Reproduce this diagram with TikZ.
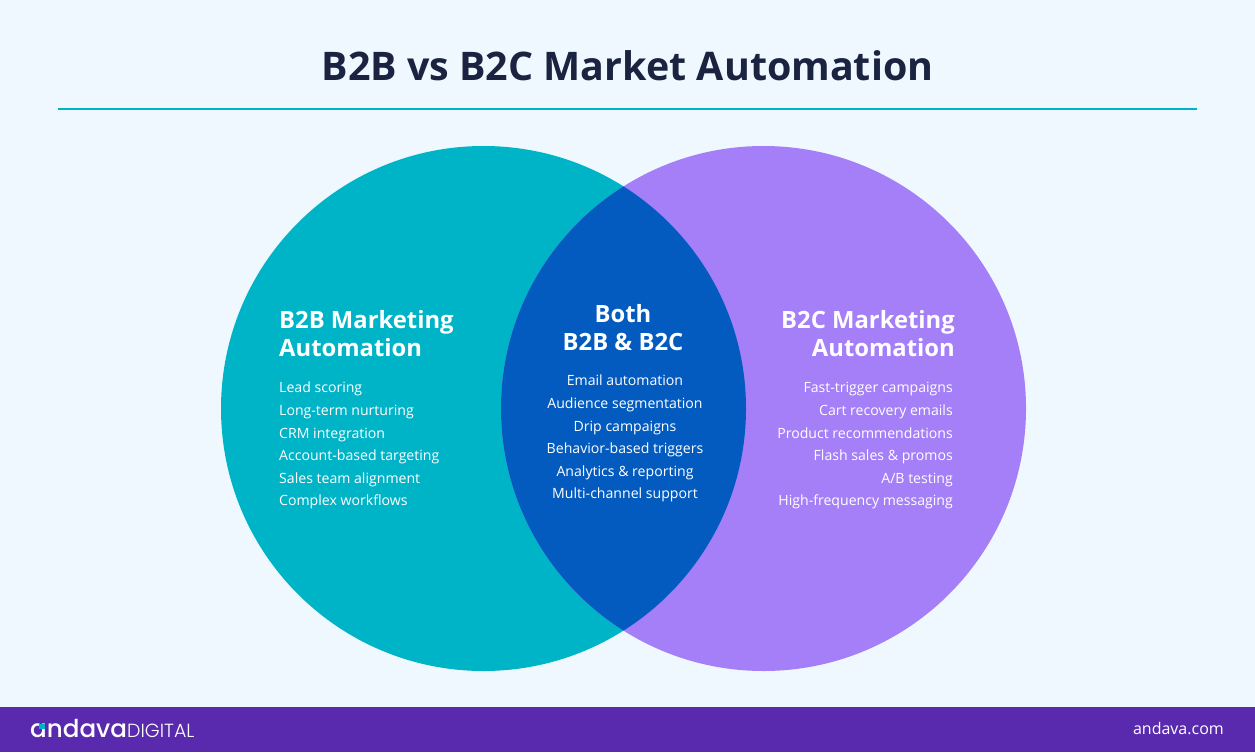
\documentclass[tikz,border=0pt]{standalone}
\usepackage{fontspec}
\setmainfont{Open Sans}
\newfontfamily\logofont{Poppins Medium}
\newfontfamily\logolight{Poppins Light}
\definecolor{bg}{HTML}{F0F8FF}
\definecolor{navy}{HTML}{1A2340}
\definecolor{teal}{HTML}{00B4C8}
\definecolor{purp}{HTML}{A47FF7}
\definecolor{mid}{HTML}{035BBF}
\definecolor{barc}{HTML}{5A2AAE}
\tikzset{
 px/.style={x=1pt,y=-1pt},
 head/.style={text=white,font=\bfseries\fontsize{23.8}{28}\selectfont,inner sep=0pt},
 item/.style={text=white,font=\fontsize{14.1}{17}\selectfont,inner sep=0pt},
}
\begin{document}
\begin{tikzpicture}[px]
\useasboundingbox (0,0) rectangle (1255,752);
\fill[bg] (0,0) rectangle (1255,752);
\node[text=navy,font=\bfseries\fontsize{39.4}{46}\selectfont,inner sep=0pt] (title) at (627.5,66) {B2B vs B2C Market Automation};
\coordinate (ruleL) at (58,109);\coordinate (ruleR) at (1197,109);
\draw[teal,line width=1.5pt] (ruleL) -- (ruleR);
\fill[teal] (483.5,408.5) circle (262.5);
\fill[purp] (763.5,408.5) circle (262.5);
\begin{scope}
\clip (483.5,408.5) circle (262.5);
\fill[mid] (763.5,408.5) circle (262.5);
\end{scope}
\foreach \n/\t/\y in {a/B2B Marketing/328.8,b/Automation/356.8}
 \node[head,anchor=base west] (l\n) at (279,\y) {\t};
\foreach \n/\t/\y in {a/B2C Marketing/328.8,b/Automation/356.8}
 \node[head,anchor=base east] (r\n) at (955,\y) {\t};
\foreach \n/\t/\y in {a/Both/322.3,b/B2B \& B2C/350.3}
 \node[head,anchor=base] (c\n) at (623,\y) {\t};
\foreach \n/\t/\y in {1/Lead scoring/392,2/Long-term nurturing/415,3/CRM integration/438,4/Account-based targeting/460,5/Sales team alignment/483,6/Complex workflows/505}
 \node[item,anchor=base west] (li\n) at (279,\y) {\t};
\foreach \n/\t/\y in {1/Fast-trigger campaigns/392,2/Cart recovery emails/415,3/Product recommendations/438,4/Flash sales \& promos/460,6/High-frequency messaging/505}
 \node[item,anchor=base east] (ri\n) at (953,\y) {\t};
\node[item,anchor=base east] (ri5) at (953,483) {A/B testing};
\foreach \n/\t/\y in {1/Email automation/385.5,2/Audience segmentation/408.5,3/Drip campaigns/431,4/Behavior-based triggers/453.5,5/Analytics \& reporting/476.5,6/Multi-channel support/498.5}
 \node[item,anchor=base] (ci\n) at (625,\y) {\t};
\fill[barc] (0,707) rectangle (1255,752);
\node[text=white,font=\fontsize{16}{18}\selectfont,inner sep=0pt,anchor=east] (site) at (1224,729) {andava.com};
\node[text=white,font=\logofont\fontsize{24.6}{26}\selectfont,inner sep=0pt,anchor=base west] (logoa) at (30,737.5) {andava};
\fill[teal] (38.5,724) rectangle (45,728.5);
\node[text=white,font=\logolight\fontsize{19}{20}\selectfont,inner sep=0pt,anchor=base west] (logob) at (127,737) {DIGITAL};
\end{tikzpicture}
\end{document}
